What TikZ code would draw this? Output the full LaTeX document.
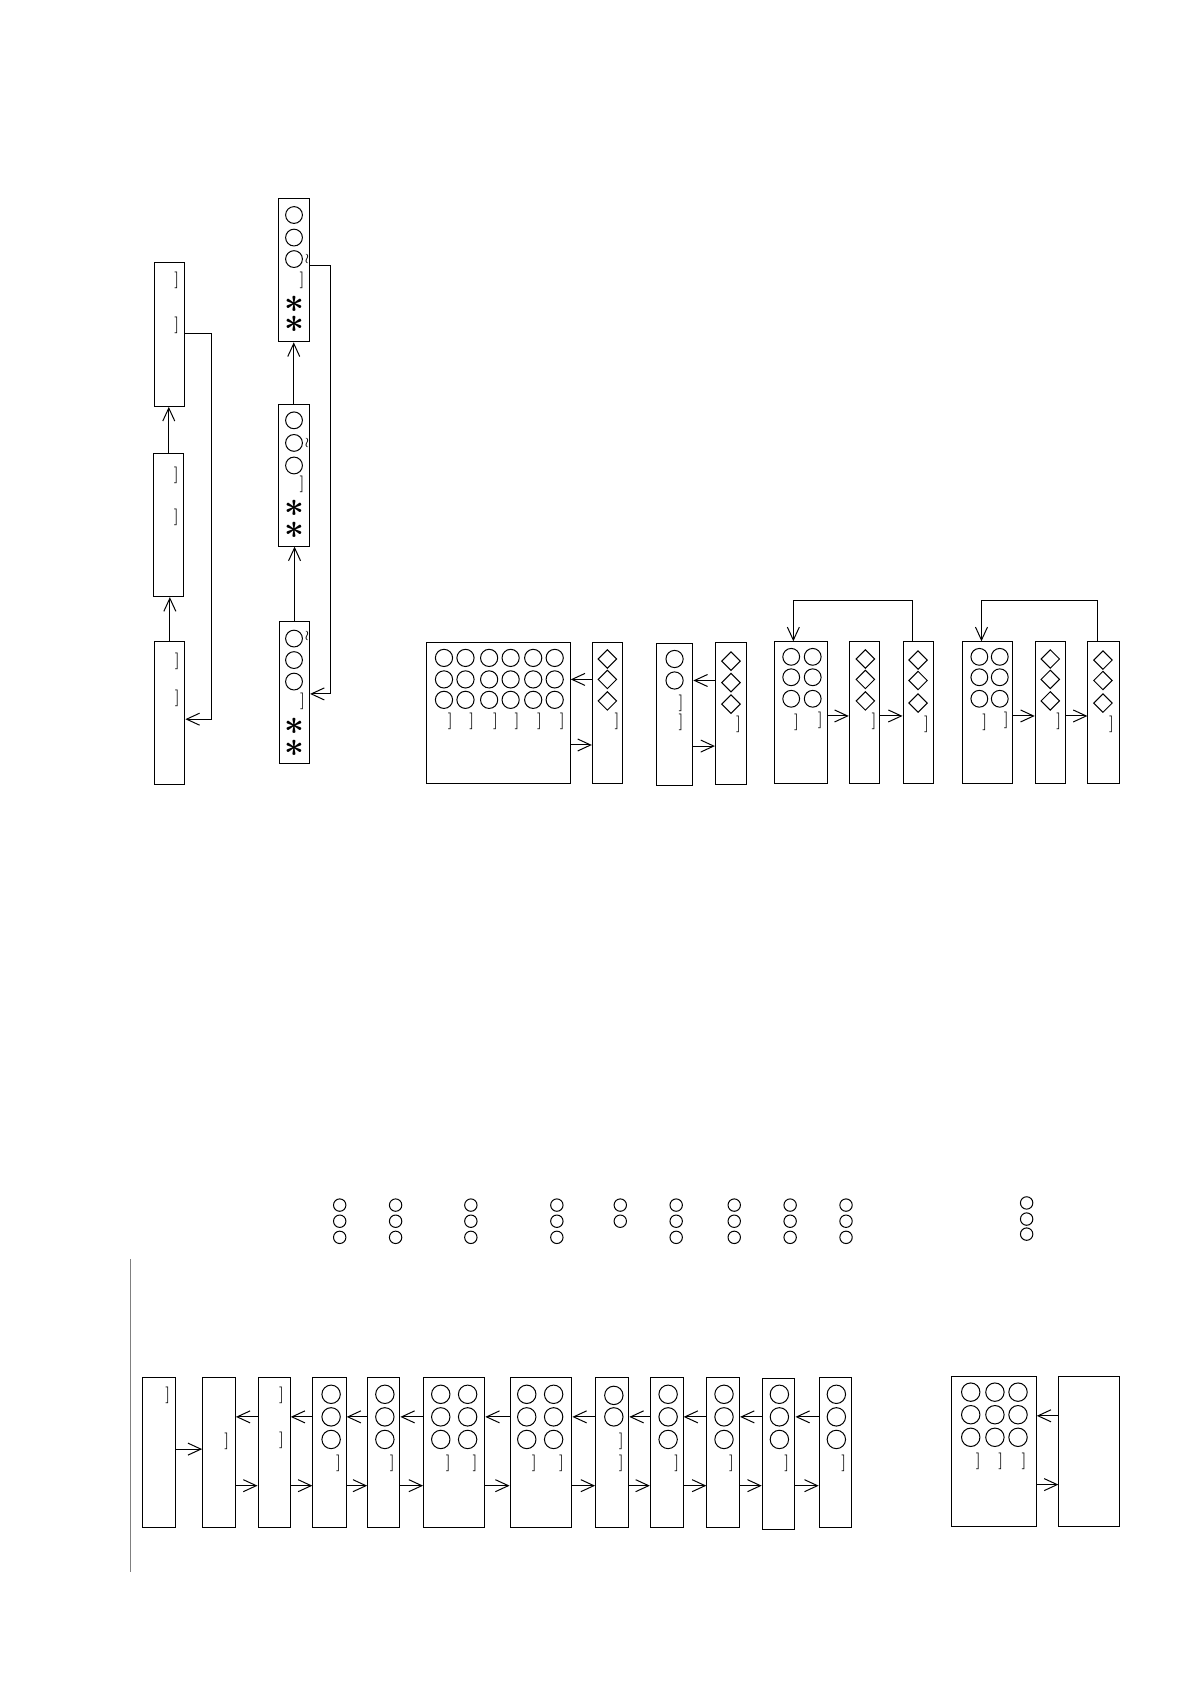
\documentclass[tikz,border=0pt]{standalone}
\usepackage{amsmath}
\usepackage{amssymb}
\usepackage{tikz}
\usetikzlibrary{positioning,calc,arrows.meta,fit}
\tikzset{
  blk/.style={draw, inner sep=0pt, line width=.5pt},
  brk/.style={inner sep=0pt, font=\fontsize{8.3}{8.3}\selectfont},
  ast/.style={inner sep=0pt, font=\LARGE\boldmath},
  wig/.style={inner sep=0pt, font=\scriptsize},
}
\newcommand{\Blk}[5]{\node[blk, fit={(#2,#3) (#4,#5)}] (#1) {};}
\newcommand{\Gem}[2]{\draw (#1,#2) +(0pt,4.6pt) -- +(4.6pt,0pt) -- +(0pt,-4.6pt) -- +(-4.6pt,0pt) -- cycle;}
\begin{document}
\begin{tikzpicture}[x=.5375pt, y=-.5375pt, line width=.5pt, >={Straight Barb[length=6.5pt,width=6pt]}]
\useasboundingbox (0,0) rectangle (1107,1566.5);

\Blk{A1}{144}{244}{172}{378}
\Blk{A2}{143}{422}{171}{555}
\Blk{A3}{144}{597}{172}{730}
\node[brk] (A1a) at (164.5,260.5) {]};
\node[brk] (A1b) at (164.5,303) {]};
\node[brk] (A2a) at (164,442) {]};
\node[brk] (A2b) at (164,481) {]};
\node[brk] (A3a) at (165,615) {]};
\node[brk] (A3b) at (165,650) {]};
\draw[->] (A3.north) -- (A3.north |- A2.south);
\draw[->] (A2.north) -- (A2.north |- A1.south);
\draw[->] (A1.east |- 0,310) -- (197,310) -- (197,669) -- (A3.east |- 0,669);

\Blk{B3}{259}{185}{287.5}{318}
\Blk{B2}{259}{376}{287.5}{508}
\Blk{B1}{260}{578}{288}{710}
\foreach \y in {200,221,241,391,412,433,594,614,634}
  {\draw (273.5,\y) circle[radius=4.2pt];}
\node[wig] (B3w) at (285.5,241) {$\wr$};
\node[wig] (B2w) at (285.5,412) {$\wr$};
\node[wig] (B1w) at (285.5,592) {$\wr$};
\node[brk] (B3a) at (281,261) {]};
\node[brk] (B2a) at (281,451) {]};
\node[brk] (B1a) at (281.5,652) {]};
\foreach \y [count=\i] in {283,302,473,493,676,696}
  {\node[ast] (Bs\i) at (273.5,\y) {$\ast$};}
\draw[->] (B1.north) -- (B1.north |- B2.south);
\draw[->] (B2.north) -- (B2.north |- B3.south);
\draw[->] (B3.east |- 0,247) -- (307,247) -- (307,645.5) -- (B1.east |- 0,645.5);

\Blk{C1}{397}{597.5}{530.5}{729}
\Blk{C2}{551}{597.5}{579}{729}
\Blk{C3}{610.5}{598.5}{644.5}{730.5}
\Blk{C4}{665.5}{598}{694}{729.5}
\foreach \x in {413,433,455,475,496,516}
  {\foreach \y in {612,632,651}
    {\draw (\x,\y) circle[radius=4.3pt];}}
\foreach \x [count=\i] in {419,439,461,481,502,523}
  {\node[brk] (C1b\i) at (\x,671) {]};}
\foreach \y in {613,632,652} {\Gem{565}{\y}}
\node[brk] (C2b) at (574,671) {]};
\foreach \y in {613,633} {\draw (627.5,\y) circle[radius=4.3pt];}
\node[brk] (C3a) at (633.5,654) {]};
\node[brk] (C3b) at (633.5,672) {]};
\foreach \y in {615,635,655} {\Gem{680}{\y}}
\node[brk] (C4b) at (687,674) {]};
\draw[->] (C2.west |- 0,632) -- (C1.east |- 0,632);
\draw[->] (C1.east |- 0,693) -- (C2.west |- 0,693);
\draw[->] (C4.west |- 0,633) -- (C3.east |- 0,633);
\draw[->] (C3.east |- 0,694) -- (C4.west |- 0,694);

\Blk{C5}{720}{597}{770}{729}
\Blk{C6}{790}{597}{818}{729}
\Blk{C7}{840}{597}{868}{729}
\Blk{C8}{895}{597}{942}{729}
\Blk{C9}{963}{597}{991}{729}
\Blk{C10}{1012}{597}{1041}{729}
\foreach \x in {736,756,911,930}
  {\foreach \y in {611,630,650}
    {\draw (\x,\y) circle[radius=4.2pt];}}
\node[brk] (C5a) at (741,672) {]};
\node[brk] (C5b) at (763,670) {]};
\node[brk] (C8a) at (916,672) {]};
\node[brk] (C8b) at (936,670) {]};
\foreach \x in {805,977} {\foreach \y in {613,632,652} {\Gem{\x}{\y}}}
\foreach \x in {854,1026} {\foreach \y in {614,633,654} {\Gem{\x}{\y}}}
\node[brk] (C6b) at (813,671) {]};
\node[brk] (C7b) at (862,674) {]};
\node[brk] (C9b) at (985,671) {]};
\node[brk] (C10b) at (1034,674) {]};
\draw[->] (C5.east |- 0,666) -- (C6.west |- 0,666);
\draw[->] (C6.east |- 0,666) -- (C7.west |- 0,666);
\draw[->] (C8.east |- 0,666) -- (C9.west |- 0,666);
\draw[->] (C9.east |- 0,666) -- (C10.west |- 0,666);
\draw[->] (C7.north -| 849,0) -- (849,559) -- (738,559) -- (C5.north -| 738,0);
\draw[->] (C10.north -| 1021,0) -- (1021,559) -- (913,559) -- (C8.north -| 913,0);

\foreach \x in {316,368,438,518,629,683,735,787}
  {\foreach \y in {1121,1136,1151}
    {\draw (\x,\y) circle[radius=3.1pt];}}
\foreach \y in {1121,1136} {\draw (577,\y) circle[radius=3.1pt];}
\foreach \y in {1119,1134,1148} {\draw (955,\y) circle[radius=3.1pt];}
\draw[gray] (121,1171) -- (121,1462);

\Blk{D1}{133}{1281}{163}{1421}
\Blk{D2}{188.5}{1281}{219}{1421}
\Blk{D3}{240}{1281}{270}{1421}
\Blk{D4}{291}{1281}{322}{1421}
\Blk{D5}{342}{1281}{372}{1421}
\Blk{D6}{394}{1281}{451}{1421}
\Blk{D7}{474.5}{1281}{532}{1421}
\Blk{D8}{554}{1281}{585}{1421}
\Blk{D9}{605}{1281}{635.5}{1421}
\Blk{D10}{657.5}{1281}{688}{1421}
\Blk{D11}{709}{1282.5}{739.5}{1422.5}
\Blk{D12}{762}{1281}{792.5}{1421}
\Blk{D13}{885.5}{1280}{964}{1420}
\Blk{D14}{985}{1280}{1041}{1420}
\foreach \x in {308,358,410,435,490,515,621.5,673.5,725,778}
  {\foreach \y in {1297,1318,1339}
    {\draw (\x,\y) circle[radius=4.6pt];}}
\foreach \y in {1298,1318} {\draw (571,\y) circle[radius=4.6pt];}
\foreach \x in {903,925.5,947}
  {\foreach \y in {1295,1316,1337}
    {\draw (\x,\y) circle[radius=4.6pt];}}
\node[brk] (D1a) at (156,1298) {]};
\node[brk] (D2a) at (211,1341) {]};
\node[brk] (D3a) at (262,1298) {]};
\node[brk] (D3b) at (262,1340) {]};
\node[brk] (D8a) at (578,1341) {]};
\foreach \x [count=\i] in {315,365,417,442,497,522.5,578,629.5,680.5,732,785}
  {\node[brk] (Db\i) at (\x,1361) {]};}
\foreach \x [count=\i] in {910,931,952.5}
  {\node[brk] (D13b\i) at (\x,1359) {]};}
\draw[->] (D1.east |- 0,1348) -- (D2.west |- 0,1348);
\foreach \a/\b in {2/3,3/4,4/5,5/6,6/7,7/8,8/9,9/10,10/11,11/12} {
  \draw[->] (D\b.west |- 0,1318) -- (D\a.east |- 0,1318);
  \draw[->] (D\a.east |- 0,1382) -- (D\b.west |- 0,1382);
}
\draw[->] (D14.west |- 0,1317) -- (D13.east |- 0,1317);
\draw[->] (D13.east |- 0,1381) -- (D14.west |- 0,1381);
\end{tikzpicture}
\end{document}
